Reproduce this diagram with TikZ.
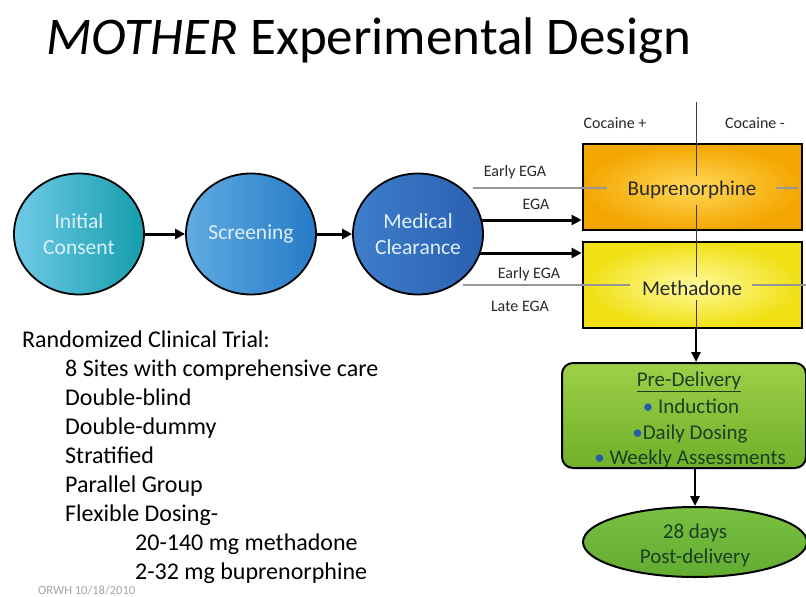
\documentclass[tikz,border=0pt]{standalone}
\usepackage{fontspec}
\setmainfont{Carlito}
\usetikzlibrary{arrows.meta,shapes.geometric}
\definecolor{circtext}{RGB}{222,240,250}
\definecolor{gline}{RGB}{150,150,150}
\definecolor{vline}{RGB}{60,60,60}
\definecolor{boxtext}{RGB}{40,40,40}
\definecolor{lbltext}{RGB}{40,40,40}
\definecolor{greentext}{RGB}{25,65,35}
\definecolor{bulletblue}{RGB}{40,90,170}
\definecolor{footgray}{RGB}{165,165,165}
\begin{document}
\begin{tikzpicture}[x=1pt,y=-1pt,
  circ/.style={ellipse, draw=black, line width=1.8pt, minimum width=130pt, minimum height=121pt,
    inner sep=0pt, align=center, text=circtext, font=\fontsize{21.5}{26}\selectfont},
  arr/.style={line width=3pt, -{Triangle[length=10pt,width=10pt]}},
  varr/.style={line width=2.4pt, -{Triangle[length=10pt,width=9pt]}},
  tbox/.style={rectangle, draw=black, line width=2.8pt, minimum width=219pt, minimum height=86pt,
    inner sep=0pt},
  boxlbl/.style={inner sep=0pt, text=boxtext, font=\fontsize{21}{25}\selectfont},
  glin/.style={draw=gline, line width=1.2pt},
  vlin/.style={draw=vline, line width=1pt},
  lbl/.style={font=\fontsize{16}{19}\selectfont, text=lbltext, inner sep=0pt},
  listtext/.style={anchor=base west, font=\fontsize{24}{28}\selectfont, inner sep=0pt},
  greentxt/.style={anchor=base, font=\fontsize{21}{25}\selectfont, text=greentext, inner sep=0pt}
]
\useasboundingbox (0,0) rectangle (806,597);

% title
\node[anchor=base west, inner sep=0pt, font=\fontsize{53}{60}\selectfont] (title) at (46,54)
  {\textit{MOTHER} Experimental Design};

% circles
\node[circ, left color={rgb,255:red,112;green,202;blue,232}, right color={rgb,255:red,20;green,158;blue,172}]
  (c1) at (79,234) {Initial\\Consent};
\node[circ, left color={rgb,255:red,96;green,172;blue,226}, right color={rgb,255:red,38;green,122;blue,198}]
  (c2) at (251,234) {Screening};
\node[circ, left color={rgb,255:red,62;green,126;blue,202}, right color={rgb,255:red,42;green,96;blue,176}]
  (c3) at (418,234) {Medical\\Clearance};

\draw[arr] (c1) -- (c2);
\draw[arr] (c2) -- (c3);

% treatment boxes
\node[tbox, shading=radial, inner color={rgb,255:red,255;green,216;blue,88}, outer color={rgb,255:red,244;green,166;blue,0}]
  (bup) at (692.5,187) {};
\node[tbox, shading=radial, inner color={rgb,255:red,255;green,250;blue,155}, outer color={rgb,255:red,240;green,224;blue,20}]
  (met) at (692.5,285) {};
\node[boxlbl] (bupl) at (692,190) {Buprenorphine};
\node[boxlbl] (metl) at (692,288) {Methadone};

% stratification lines
\coordinate (vt) at (696,102);
\draw[vlin] (vt) -- (696,176);
\draw[vlin] (696,205) -- (696,277);
\draw[vlin] (696,300) -- (met.south -| vt);
\draw[glin] (473,188) -- (607,188);
\draw[glin] (776,188) -- (798,188);
\draw[glin] (463,285) -- (630,285);
\draw[glin] (752,285) -- (806,285);

% labels
\node[lbl] (cp) at (615,123) {Cocaine +};
\node[lbl] (cm) at (755,123) {Cocaine -};
\node[lbl] (e1) at (515,172) {Early EGA};
\node[lbl] (e2) at (536,204) {EGA};
\node[lbl] (e3) at (529,274) {Early EGA};
\node[lbl] (e4) at (520,306) {Late EGA};

% arrows to boxes
\coordinate (a1) at (481,220);
\coordinate (a2) at (480,253);
\draw[arr] (a1) -- (bup.west |- a1);
\draw[arr] (a2) -- (met.west |- a2);

% pre-delivery
\node[rectangle, rounded corners=11pt, draw=black, line width=2pt, minimum width=244pt, minimum height=105pt,
  top color={rgb,255:red,158;green,208;blue,72}, bottom color={rgb,255:red,112;green,176;blue,42}]
  (pre) at (684,415.5) {};
\node[greentxt] (p1) at (689,386) {\underline{Pre-Delivery}};
\node[greentxt] (p2) at (691,413) {{\color{bulletblue}•} Induction};
\node[greentxt] (p3) at (690,439) {{\color{bulletblue}•}Daily Dosing};
\node[greentxt] (p4) at (690,464) {{\color{bulletblue}•} Weekly Assessments};

\draw[varr] (met.south -| vt) -- (pre.north -| vt);

% post-delivery
\node[ellipse, draw=black, line width=2pt, minimum width=224pt, minimum height=70pt, inner sep=0pt,
  top color={rgb,255:red,122;green,192;blue,66}, bottom color={rgb,255:red,98;green,172;blue,50}]
  (post) at (695,542) {};
\node[greentxt] (q1) at (695,538) {28 days};
\node[greentxt] (q2) at (695,563) {Post-delivery};

\draw[varr] (pre.south -| post.north) -- (post.north);

% trial description
\node[listtext] (l0) at (22,347) {Randomized Clinical Trial:};
\node[listtext] (l1) at (65,376) {8 Sites with comprehensive care};
\node[listtext] (l2) at (65,405) {Double-blind};
\node[listtext] (l3) at (65,434) {Double-dummy};
\node[listtext] (l4) at (65,463) {Stratified};
\node[listtext] (l5) at (65,492) {Parallel Group};
\node[listtext] (l6) at (65,521) {Flexible Dosing-};
\node[listtext] (l7) at (135,550) {20-140 mg methadone};
\node[listtext] (l8) at (135,579) {2-32 mg buprenorphine};

\node[anchor=base west, inner sep=0pt, text=footgray, font=\fontsize{12.5}{14}\selectfont] (foot) at (38,594) {ORWH 10/18/2010};
\end{tikzpicture}
\end{document}
